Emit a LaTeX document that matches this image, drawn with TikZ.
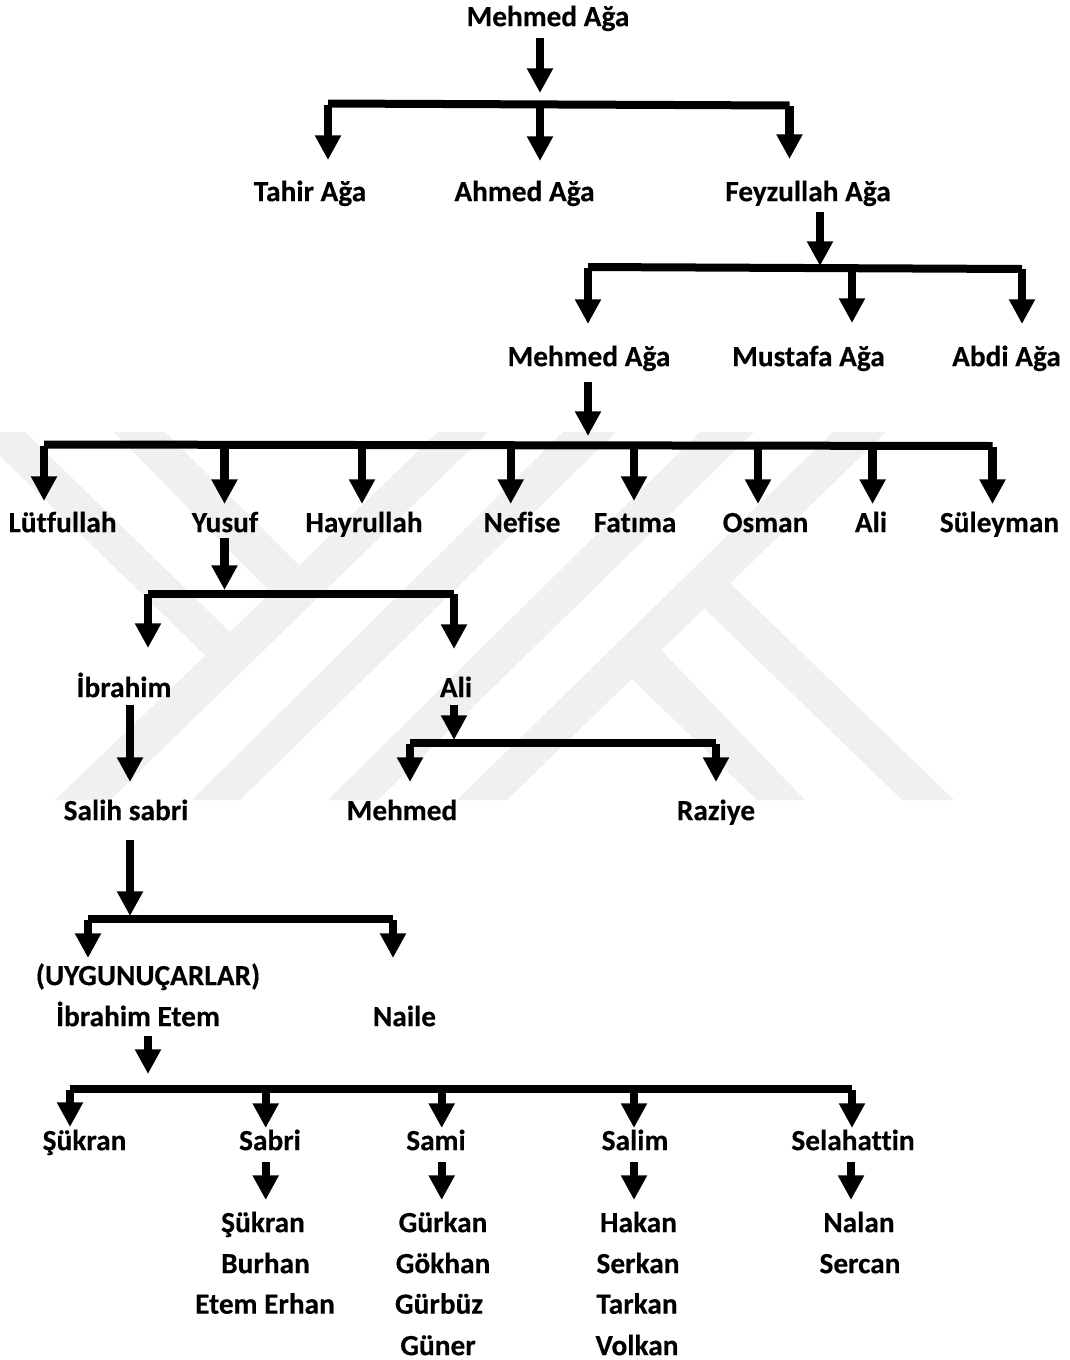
\documentclass[tikz,border=0pt]{standalone}
\usepackage{fontspec}
\setmainfont{Carlito}[Ligatures=CommonOff,BoldFeatures={FakeBold=0.3}]
\usetikzlibrary{arrows.meta}
\definecolor{wmgrey}{HTML}{F0F0F0}
\tikzset{
  lbl/.style={font=\bfseries\fontsize{22}{26}\selectfont,inner sep=0pt,anchor=base,text=black,yshift=-0.5pt},
  fat/.style={line width=6.3pt,-{Triangle[width=18.5pt,length=18.5pt]},black},
  hbar/.style={line width=6pt,black},
  wm/.style={fill=wmgrey,draw=none}
}
% named connector: start and tip coordinates, then the arrow between them
\newcommand{\fatarrow}[4]{%
  \coordinate (#1s) at (#2,#3);
  \coordinate (#1e) at (#2,{#4+1});
  \draw[fat] (#1s) -- (#1e);}
\newcommand{\barline}[5]{%
  \coordinate (#1l) at (#2,#3);
  \coordinate (#1r) at (#4,#5);
  \draw[hbar] (#1l) -- (#1r);}
\newcommand{\wmband}[4]{%
  \fill[wm] (#1,432) -- (#2,432) -- (#3,800) -- (#4,800) -- cycle;}
\begin{document}
\begin{tikzpicture}[x=0.75pt,y=-0.75pt]
\useasboundingbox (0,0) rectangle (1070,1360);
\fill[white] (0,0) rectangle (1070,1360);
% watermark
\wmband{438}{488}{110}{55}
\wmband{563}{616}{240}{192}
\wmband{700}{754}{378}{328}
\wmband{833}{886}{507}{457}
\fill[wm] (0,432) -- (25,432) -- (230,632) -- (208,658) -- (0,456) -- cycle;
\fill[wm] (114,432) -- (165,432) -- (299,565) -- (272,594) -- cycle;
\fill[wm] (729,582) -- (954,800) -- (902,800) -- (704,608) -- cycle;
\fill[wm] (661,650) -- (805,800) -- (757,800) -- (631,678) -- cycle;
% labels
\node[lbl] (n1) at (548,25.5) {Mehmed Ağa};
\node[lbl] (n2) at (310,200.5) {Tahir Ağa};
\node[lbl] (n3) at (524.5,200.5) {Ahmed Ağa};
\node[lbl] (n4) at (808,200.5) {Feyzullah Ağa};
\node[lbl] (n5) at (589,365.5) {Mehmed Ağa};
\node[lbl] (n6) at (808.5,365.5) {Mustafa Ağa};
\node[lbl] (n7) at (1006.5,365.5) {Abdi Ağa};
\node[lbl] (n8) at (62.5,531.5) {Lütfullah};
\node[lbl] (n9) at (225,531.5) {Yusuf};
\node[lbl] (n10) at (364,531.5) {Hayrullah};
\node[lbl] (n11) at (522,531.5) {Nefise};
\node[lbl] (n12) at (635,531.5) {Fatıma};
\node[lbl] (n13) at (765.5,531.5) {Osman};
\node[lbl] (n14) at (871,531.5) {Ali};
\node[lbl] (n15) at (999.5,531.5) {Süleyman};
\node[lbl] (n16) at (124,696.5) {İbrahim};
\node[lbl] (n17) at (456,696.5) {Ali};
\node[lbl] (n18) at (126,819.5) {Salih sabri};
\node[lbl] (n19) at (402,819.5) {Mehmed};
\node[lbl] (n20) at (716,819.5) {Raziye};
\node[lbl] (n21) at (148,984.5) {(UYGUNUÇARLAR)};
\node[lbl] (n22) at (138,1025.5) {İbrahim Etem};
\node[lbl] (n23) at (404.5,1025.5) {Naile};
\node[lbl] (n24) at (84.5,1149.5) {Şükran};
\node[lbl] (n25) at (270,1149.5) {Sabri};
\node[lbl] (n26) at (436,1149.5) {Sami};
\node[lbl] (n27) at (635,1149.5) {Salim};
\node[lbl] (n28) at (853,1149.5) {Selahattin};
\node[lbl] (n29) at (263,1231.5) {Şükran};
\node[lbl] (n30) at (265.5,1272.5) {Burhan};
\node[lbl] (n31) at (265,1313) {Etem Erhan};
\node[lbl] (n32) at (443,1231.5) {Gürkan};
\node[lbl] (n33) at (443,1272.5) {Gökhan};
\node[lbl] (n34) at (439,1313) {Gürbüz};
\node[lbl] (n35) at (438,1354.5) {Güner};
\node[lbl] (n36) at (638.5,1231.5) {Hakan};
\node[lbl] (n37) at (638,1272.5) {Serkan};
\node[lbl] (n38) at (637,1313) {Tarkan};
\node[lbl] (n39) at (637,1354.5) {Volkan};
\node[lbl] (n40) at (859,1231.5) {Nalan};
\node[lbl] (n41) at (860,1272.5) {Sercan};
% level 1
\fatarrow{a1}{540}{38}{92}
\barline{b1}{328}{103.5}{789.5}{105.5}
\fatarrow{a2}{328}{105}{159}
\fatarrow{a3}{540}{105}{160}
\fatarrow{a4}{789.5}{106}{158}
% level 2
\fatarrow{a5}{820}{212}{265}
\barline{b2}{588}{267}{1022}{269}
\fatarrow{a6}{588}{268}{323}
\fatarrow{a7}{852}{268}{322}
\fatarrow{a8}{1022}{269}{323}
% level 3
\fatarrow{a9}{588}{382}{435}
\barline{b3}{44}{444.5}{992.5}{446}
\fatarrow{a10}{44}{446}{500}
\fatarrow{a11}{224.5}{446}{503}
\fatarrow{a12}{362}{446}{503}
\fatarrow{a13}{510.7}{446}{503}
\fatarrow{a14}{634}{446}{500}
\fatarrow{a15}{758}{446}{503}
\fatarrow{a16}{872.6}{446}{503}
\fatarrow{a17}{992.5}{447}{503}
% level 4
\fatarrow{a18}{224.5}{538}{589}
\barline{b4}{148}{593.5}{454}{593.5}
\fatarrow{a19}{148}{594}{647}
\fatarrow{a20}{454}{594}{648}
% level 5
\fatarrow{a21}{130}{705}{781}
\fatarrow{a22}{454}{705}{739}
\barline{b5}{410}{743}{716}{743}
\fatarrow{a23}{410}{744}{781}
\fatarrow{a24}{716}{744}{781}
% level 6
\fatarrow{a25}{130}{840}{915}
\barline{b6}{88}{919}{393}{919}
\fatarrow{a26}{88}{920}{957}
\fatarrow{a27}{393}{920}{957}
% level 7
\fatarrow{a28}{148}{1036}{1073}
\barline{b7}{70}{1089}{852}{1089}
\fatarrow{a29}{70}{1090}{1126}
\fatarrow{a30}{265.7}{1090}{1127}
\fatarrow{a31}{441.7}{1090}{1127}
\fatarrow{a32}{634}{1090}{1127}
\fatarrow{a33}{852}{1090}{1127}
% level 8
\fatarrow{a34}{265.7}{1162}{1199}
\fatarrow{a35}{441.7}{1162}{1199}
\fatarrow{a36}{634}{1162}{1199}
\fatarrow{a37}{851}{1162}{1199}
\end{tikzpicture}
\end{document}
